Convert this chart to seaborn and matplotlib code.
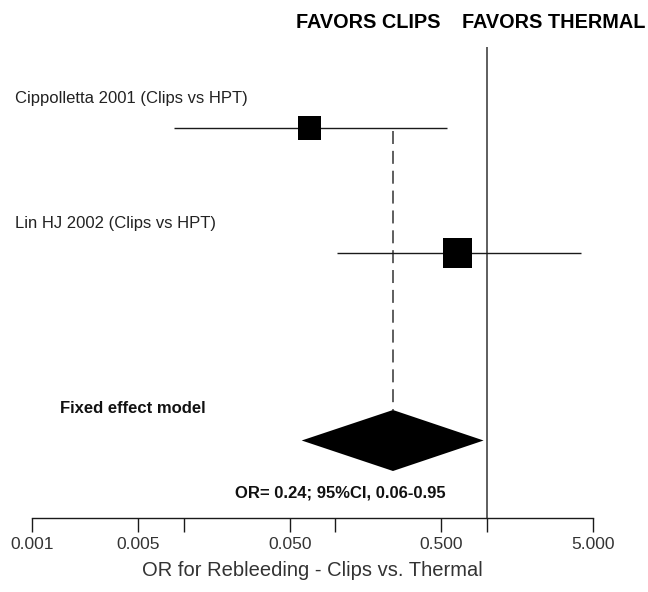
import numpy as np
import pandas as pd
import matplotlib
import matplotlib.pyplot as plt
import matplotlib.transforms as mtransforms
import seaborn as sns

matplotlib.use('Agg')

# studies
studies = ['Cippolletta 2001 (Clips vs HPT)', 'Lin HJ 2002 (Clips vs HPT)']
odds_ratio = [0.068, 0.64]
ci_low = [0.0087, 0.103]
ci_high = [0.545, 4.15]
weights = [39, 61]

# pooled estimate
pooled_label = 'Fixed effect model'
pooled_or = 0.24
pooled_low = 0.06
pooled_high = 0.95

tick_vals = [0.001, 0.005, 0.01, 0.05, 0.1, 0.5, 1.0, 5.0]
tick_labels = ['0.001', '0.005', '', '0.050', '', '0.500', '', '5.000']

sns.set_style('white')
plt.rcParams['font.family'] = ['Liberation Sans', 'DejaVu Sans']

df = pd.DataFrame({'study': studies, 'OR': odds_ratio, 'lo': ci_low,
                   'hi': ci_high, 'w': weights})
df['row'] = np.arange(1, len(df) + 1)
pooled_row = len(df) + 1.5
half_h = 0.244

fig = plt.figure(figsize=(6.48, 5.92), dpi=100)
ax = fig.add_axes([0.0494, 0.125, 0.8657, 0.7956])

line_col = '#1a1a1a'

# confidence intervals
ax.hlines(df['row'], df['lo'], df['hi'], color=line_col, lw=1.0, zorder=2)

# study squares, size by weight
sns.scatterplot(data=df, x='OR', y='row', size='w', sizes=(16.6 ** 2, 20.9 ** 2),
                marker='s', color='black', linewidth=0, legend=False, ax=ax, zorder=3)

# pooled diamond
ax.fill([pooled_low, pooled_or, pooled_high, pooled_or],
        [pooled_row, pooled_row - half_h, pooled_row, pooled_row + half_h],
        color='black', lw=0, zorder=3)

# dashed line at pooled OR
ax.vlines(pooled_or, df['row'].iloc[0] + 0.02, pooled_row - half_h, color='#333333',
          lw=1.1, linestyles=(0, (8.5, 4.5)), zorder=1)

# line of no effect
ax.axvline(1.0, color='#333333', lw=1.1, zorder=1)

ax.set_xscale('log')
ax.set_xlim(0.001, 5.0)
ax.set_ylim(4.12, 0.352)
ax.set_xticks(tick_vals)
ax.set_xticklabels(tick_labels)
ax.xaxis.set_minor_locator(matplotlib.ticker.NullLocator())
ax.tick_params(axis='x', direction='out', length=10, width=1.0, color=line_col,
               labelsize=12.5, labelcolor='#333333', pad=4, bottom=True)
ax.set_yticks([])
ax.set_ylabel('')
for s in ['top', 'left', 'right']:
    ax.spines[s].set_visible(False)
ax.spines['bottom'].set_color(line_col)
ax.spines['bottom'].set_linewidth(1.0)
ax.set_xlabel('OR for Rebleeding - Clips vs. Thermal', fontsize=14.5, color='#333333',
              labelpad=6)

# labels
trans = mtransforms.blended_transform_factory(fig.transFigure, ax.transData)
for name, r in zip(df['study'], df['row']):
    ax.text(15 / 648, r - 0.24, name, transform=trans, fontsize=12, color='#222222',
            ha='left', va='center', clip_on=False)
ax.text(60 / 648, pooled_row - 0.26, pooled_label, transform=trans, fontsize=12,
        fontweight='bold', color='#111111', ha='left', va='center', clip_on=False)
ax.text(340 / 648, pooled_row + 0.42,
        f'OR= {pooled_or:.2f}; 95%CI, {pooled_low:.2f}-{pooled_high:.2f}',
        transform=trans, fontsize=12, fontweight='bold', color='#111111',
        ha='center', va='center', clip_on=False)

fig.text(440 / 648, 1 - 22 / 592, 'FAVORS CLIPS', fontsize=14.3, fontweight='bold',
         color='black', ha='right', va='center')
fig.text(462 / 648, 1 - 22 / 592, 'FAVORS THERMAL', fontsize=14.3, fontweight='bold',
         color='black', ha='left', va='center')

fig.savefig('out.png', dpi=100)
